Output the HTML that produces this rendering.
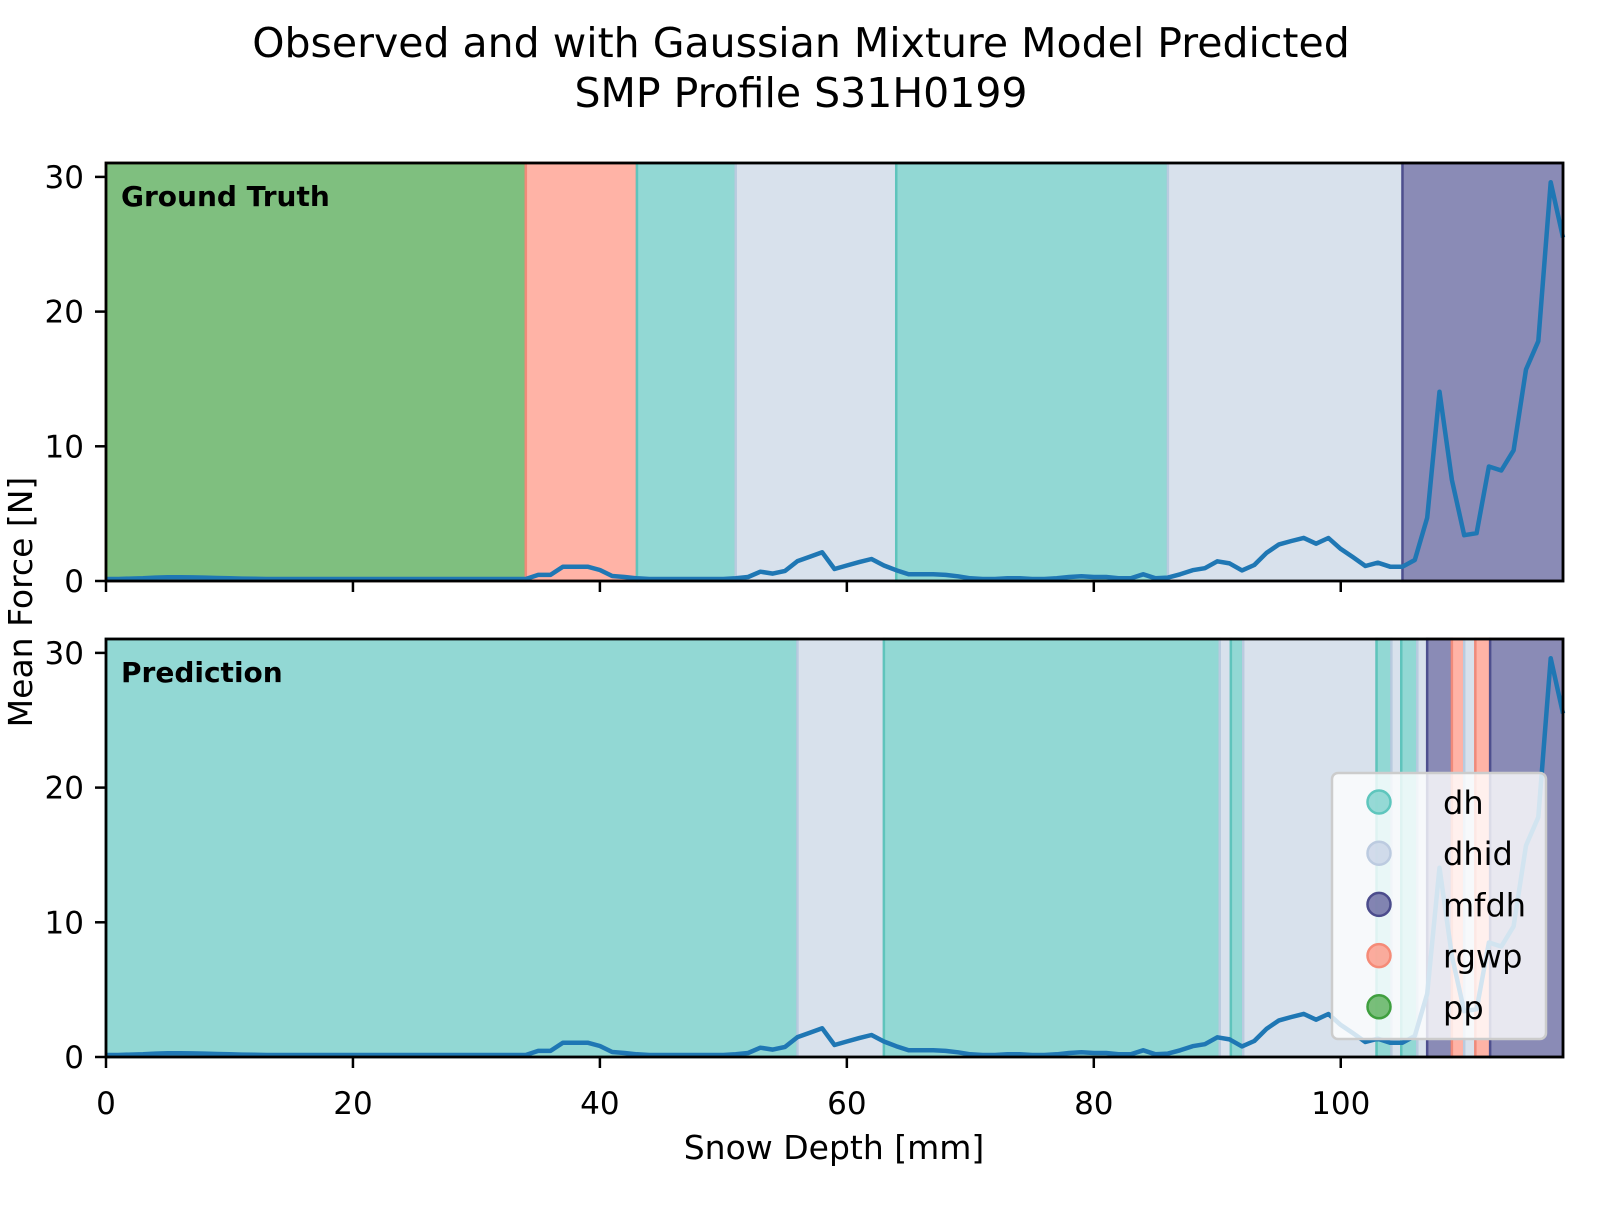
<!DOCTYPE html>
<html><head><meta charset="utf-8"><style>
body{margin:0;background:#fff}
svg text{font-family:"DejaVu Sans","Liberation Sans",sans-serif;fill:#000}
</style></head><body>
<svg id="chart" width="1600" height="1200" viewBox="0 0 1600 1200" xmlns="http://www.w3.org/2000/svg">
<rect width="1600" height="1200" fill="#fff"/>
<text x="801" y="57" font-size="41" text-anchor="middle">Observed and with Gaussian Mixture Model Predicted</text>
<text x="801" y="107" font-size="41" text-anchor="middle">SMP Profile S31H0199</text>
<text transform="translate(32,602) rotate(-90)" font-size="33" text-anchor="middle">Mean Force [N]</text>
<text x="834" y="1159" font-size="33" text-anchor="middle">Snow Depth [mm]</text>
<g id="top"></g>
<g id="bot"></g>
<g id="legend"></g>
</svg>
<script>
const depths = [];
for (let i = 0; i <= 118; i++) depths.push(i);
const force = [0.15,0.15,0.18,0.2,0.25,0.28,0.28,0.27,0.25,0.22,0.2,0.18,0.16,0.15,0.15,0.15,0.15,0.15,0.15,0.15,
0.15,0.15,0.15,0.15,0.15,0.15,0.15,0.15,0.15,0.15,0.15,0.15,0.15,0.15,0.15,0.45,0.45,1.06,1.06,1.06,
0.82,0.37,0.3,0.2,0.15,0.15,0.15,0.15,0.15,0.15,0.15,0.2,0.3,0.69,0.55,0.75,1.48,1.8,2.13,0.89,
1.15,1.4,1.63,1.15,0.8,0.5,0.5,0.5,0.45,0.35,0.2,0.15,0.15,0.2,0.2,0.15,0.15,0.2,0.3,0.35,
0.3,0.3,0.2,0.2,0.5,0.2,0.25,0.5,0.8,0.95,1.46,1.31,0.79,1.19,2.1,2.72,2.97,3.2,2.77,3.19,
2.38,1.76,1.11,1.36,1.06,1.06,1.56,4.7,14.05,7.5,3.4,3.55,8.5,8.2,9.7,15.7,17.8,29.6,25.5];
const truthStart = [0,34,43,51,64,86,105];
const truthEnd   = [34,43,51,64,86,105,118];
const truthLabel = ["pp","rgwp","dh","dhid","dh","dhid","mfdh"];
const predStart = [0,56,63,90.2,91.1,92.1,102.9,104.1,104.9,106.2,107,109,110,110.9,112.1];
const predEnd   = [56,63,90.2,91.1,92.1,102.9,104.1,104.9,106.2,107,109,110,110.9,112.1,118];
const predLabel = ["dh","dhid","dh","dhid","dh","dhid","dh","dhid","dh","dhid","mfdh","rgwp","dhid","rgwp","mfdh"];
const xTicks = [0,20,40,60,80,100];
const yTicks = [0,10,20,30];
const legendLabels = ["dh","dhid","mfdh","rgwp","pp"];

const fill = {dh:"#92d8d4",dhid:"#d8e1ec",mfdh:"#8a8bb6",rgwp:"#ffb3a6",pp:"#7fbf7f"};
const edge = {dh:"#5fc4bc",dhid:"#b9cbdf",mfdh:"#4e4f8e",rgwp:"#f08a7a",pp:"#c08040"};
const legFill = {dh:"#85d4cf",dhid:"#cbd6e7",mfdh:"#6f70a5",rgwp:"#fb9e8c",pp:"#63b463"};
const legEdge = {dh:"#5ec6bd",dhid:"#bccbe0",mfdh:"#4b4c8c",rgwp:"#f58b77",pp:"#3f9f3f"};

const NS = "http://www.w3.org/2000/svg";
const X0 = 106, X1 = 1563, XMAX = 118;
const sx = v => X0 + v * (X1 - X0) / XMAX;
const PY = 13.47;
function mk(tag, attrs, parent){const e=document.createElementNS(NS,tag);for(const k in attrs)e.setAttribute(k,attrs[k]);parent.appendChild(e);return e;}

function panel(gid, top, starts, ends, labels, title, showX){
  const g = document.getElementById(gid);
  const bottom = top + 418;
  const sy = v => bottom - v * PY;
  for (let i = 0; i < starts.length; i++){
    const r = mk("rect",{x:sx(starts[i]),y:top,width:sx(ends[i])-sx(starts[i]),height:418,fill:fill[labels[i]],stroke:edge[labels[i]],"stroke-width":2.5},g);
    
    
  }
  let d = "";
  depths.forEach((x,i)=>{ d += (i?"L":"M") + sx(x).toFixed(1) + " " + sy(force[i]).toFixed(1); });
  const p = mk("path",{d:d,fill:"none",stroke:"#1f77b4","stroke-width":4.5,"stroke-linejoin":"round"},g);
  
  
  const fr = mk("rect",{x:X0,y:top,width:X1-X0,height:418,fill:"none",stroke:"#000","stroke-width":2.8},g);
  
  
  yTicks.forEach(t=>{
    mk("line",{x1:X0-11,x2:X0,y1:sy(t),y2:sy(t),stroke:"#000","stroke-width":2.5},g);
    const tx = mk("text",{x:X0-22,y:sy(t)+11,"font-size":31,"text-anchor":"end"},g);
    tx.textContent = t;
    
    
  });
  xTicks.forEach(t=>{
    mk("line",{x1:sx(t),x2:sx(t),y1:bottom,y2:bottom+11,stroke:"#000","stroke-width":2.5},g);
    if (showX){
      const tx = mk("text",{x:sx(t),y:bottom+57,"font-size":31,"text-anchor":"middle"},g);
      tx.textContent = t;
      
      
    }
  });
  const lt = mk("text",{x:121,y:top+43,"font-size":28,"font-weight":"bold"},g);
  lt.textContent = title;
  
  
}
panel("top", 163, truthStart, truthEnd, truthLabel, "Ground Truth", false);
panel("bot", 639, predStart, predEnd, predLabel, "Prediction", true);

const lg = document.getElementById("legend");
const box = mk("rect",{x:1332,y:773,width:214,height:266,rx:6,fill:"#fff","fill-opacity":0.8,stroke:"#cccccc","stroke-width":2.5},lg);


legendLabels.forEach((l,i)=>{
  const y = 802 + i * 51.2;
  const c = mk("circle",{cx:1379,cy:y,r:11.5,fill:legFill[l],stroke:legEdge[l],"stroke-width":2.5,"fill-opacity":0.85},lg);
  
  
  const t = mk("text",{x:1443,y:y+12,"font-size":32},lg);
  t.textContent = l;
  
  
});
</script>
</body></html>
